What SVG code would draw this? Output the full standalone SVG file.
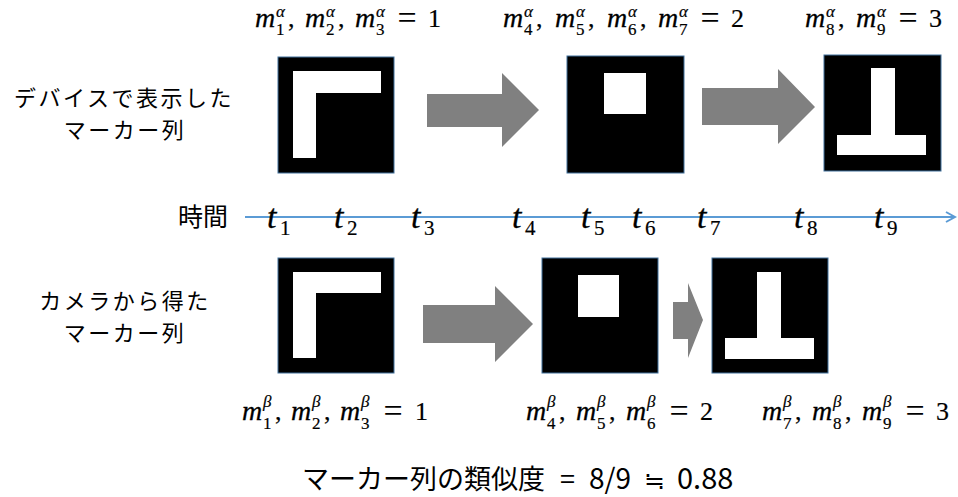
<svg xmlns="http://www.w3.org/2000/svg" width="958" height="497" viewBox="0 0 958 497">
<style>
.jp{font-family:"Noto Sans CJK JP","Noto Sans",sans-serif;font-size:22px;letter-spacing:2.5px;fill:#000}
.sim{font-family:"Noto Sans CJK JP","Noto Sans",sans-serif;font-size:27px;fill:#000}
.mi{font-family:"Liberation Serif",serif;font-style:italic;font-size:28px;fill:#000;stroke:#000;stroke-width:0.3}
.ms{font-family:"Liberation Serif",serif;font-style:italic;font-size:17px;fill:#000;stroke:#000;stroke-width:0.2}
.sb{font-family:"Liberation Serif",serif;font-size:17px;fill:#000;stroke:#000;stroke-width:0.2}
.rm{font-family:"Liberation Serif",serif;font-size:26px;fill:#000;stroke:#000;stroke-width:0.2}
.eq{font-family:"Liberation Serif",serif;font-size:34px;fill:#000}
.ti{font-family:"Liberation Serif",serif;font-style:italic;font-size:34px;fill:#000;stroke:#000;stroke-width:0.3}
.ts{font-family:"Liberation Serif",serif;font-size:21px;fill:#000;stroke:#000;stroke-width:0.2}
.box{fill:#000;stroke:#41719C;stroke-width:1}
.wh{fill:#fff}
.arr{fill:#808080}
</style>
<defs>
<marker id="ah" markerWidth="12" markerHeight="12" refX="10" refY="6" orient="auto" markerUnits="userSpaceOnUse">
<path d="M1,1 L10,6 L1,11" fill="none" stroke="#5B9BD5" stroke-width="2"/>
</marker>
</defs>

<g id="labels-left">
<text class="jp" x="124" y="106" text-anchor="middle">デバイスで表示した</text>
<text class="jp" x="125" y="138" text-anchor="middle">マーカー列</text>
<text class="jp" x="125" y="309" text-anchor="middle">カメラから得た</text>
<text class="jp" x="125" y="341" text-anchor="middle">マーカー列</text>
</g>

<g id="label-top-1">
<text class="mi" x="255" y="27">m</text><text class="ms" x="276" y="17">α</text><text class="sb" x="276" y="35">1</text><text class="rm" x="288" y="27">,</text>
<text class="mi" x="305" y="27">m</text><text class="ms" x="326" y="17">α</text><text class="sb" x="326" y="35">2</text><text class="rm" x="338" y="27">,</text>
<text class="mi" x="355" y="27">m</text><text class="ms" x="376" y="17">α</text><text class="sb" x="376" y="35">3</text>
<text class="eq" x="407" y="29" text-anchor="middle">=</text><text class="rm" x="428" y="27">1</text>
</g>
<g id="label-top-2">
<text class="mi" x="503" y="27">m</text><text class="ms" x="524" y="17">α</text><text class="sb" x="524" y="35">4</text><text class="rm" x="536" y="27">,</text>
<text class="mi" x="555" y="27">m</text><text class="ms" x="576" y="17">α</text><text class="sb" x="576" y="35">5</text><text class="rm" x="588" y="27">,</text>
<text class="mi" x="607" y="27">m</text><text class="ms" x="628" y="17">α</text><text class="sb" x="628" y="35">6</text><text class="rm" x="640" y="27">,</text>
<text class="mi" x="658" y="27">m</text><text class="ms" x="679" y="17">α</text><text class="sb" x="679" y="35">7</text>
<text class="eq" x="710" y="29" text-anchor="middle">=</text><text class="rm" x="731" y="27">2</text>
</g>
<g id="label-top-3">
<text class="mi" x="805" y="27">m</text><text class="ms" x="826" y="17">α</text><text class="sb" x="826" y="35">8</text><text class="rm" x="838" y="27">,</text>
<text class="mi" x="856" y="27">m</text><text class="ms" x="877" y="17">α</text><text class="sb" x="877" y="35">9</text>
<text class="eq" x="908" y="29" text-anchor="middle">=</text><text class="rm" x="929" y="27">3</text>
</g>

<g id="marker-top-1">
<rect class="box" x="278" y="57" width="116" height="116"/>
<path class="wh" d="M293,71 H381 V93 H316 V158 H293 Z"/>
</g>
<g id="marker-top-2">
<rect class="box" x="567" y="56" width="117" height="117"/>
<rect class="wh" x="604" y="73" width="42" height="41"/>
</g>
<g id="marker-top-3">
<rect class="box" x="824" y="55" width="117" height="116"/>
<path class="wh" d="M871,68 H895 V135 H926 V155 H837 V135 H871 Z"/>
</g>

<g id="marker-bottom-1">
<rect class="box" x="278" y="258" width="116" height="115"/>
<path class="wh" d="M293,272 H381 V293 H316 V358 H293 Z"/>
</g>
<g id="marker-bottom-2">
<rect class="box" x="542" y="258" width="116" height="115"/>
<rect class="wh" x="578" y="275" width="41" height="42"/>
</g>
<g id="marker-bottom-3">
<rect class="box" x="712" y="258" width="116" height="115"/>
<path class="wh" d="M757,272 H781 V338 H814 V359 H725 V338 H757 Z"/>
</g>

<g id="connectors">
<path class="arr" d="M427,94 H502 V73 L539,110 L502,147 V127 H427 Z"/>
<path class="arr" d="M702,88 H778 V69 L815,107 L778,144 V125 H702 Z"/>
<path class="arr" d="M423,305 H495 V286 L533,324 L495,362 V343 H423 Z"/>
<path class="arr" d="M673,302 H688 V283 L703,320 L688,358 V339 H673 Z"/>
<line x1="245" y1="217" x2="955" y2="217" stroke="#5B9BD5" stroke-width="2" marker-end="url(#ah)"/>
</g>

<g id="time-axis-labels">
<text class="jp" x="178" y="226" style="font-size:25px;letter-spacing:0">時間</text>
<text class="ti" x="267" y="228">t</text><text class="ts" x="280" y="235">1</text>
<text class="ti" x="334" y="228">t</text><text class="ts" x="347" y="235">2</text>
<text class="ti" x="411" y="228">t</text><text class="ts" x="424" y="235">3</text>
<text class="ti" x="512" y="228">t</text><text class="ts" x="525" y="235">4</text>
<text class="ti" x="581" y="228">t</text><text class="ts" x="594" y="235">5</text>
<text class="ti" x="632" y="228">t</text><text class="ts" x="645" y="235">6</text>
<text class="ti" x="697" y="228">t</text><text class="ts" x="710" y="235">7</text>
<text class="ti" x="794" y="228">t</text><text class="ts" x="807" y="235">8</text>
<text class="ti" x="874" y="228">t</text><text class="ts" x="887" y="235">9</text>
</g>

<g id="similarity">
<text class="sim" x="302" y="489">マーカー列の類似度<tspan x="560">=</tspan><tspan x="589" style="font-size:28px">8/9</tspan></text>
<text class="sim" x="654" y="489" text-anchor="middle" style="font-size:25px">≒</text>
<text class="sim" x="677" y="489" style="font-size:29px">0.88</text>
</g>

<g id="label-bottom-1">
<text class="mi" x="242" y="420">m</text><text class="ms" x="263" y="407">β</text><text class="sb" x="263" y="429">1</text><text class="rm" x="275" y="420">,</text>
<text class="mi" x="291" y="420">m</text><text class="ms" x="312" y="407">β</text><text class="sb" x="312" y="429">2</text><text class="rm" x="324" y="420">,</text>
<text class="mi" x="340" y="420">m</text><text class="ms" x="361" y="407">β</text><text class="sb" x="361" y="429">3</text>
<text class="eq" x="393" y="422" text-anchor="middle">=</text><text class="rm" x="415" y="420">1</text>
</g>
<g id="label-bottom-2">
<text class="mi" x="526" y="420">m</text><text class="ms" x="547" y="407">β</text><text class="sb" x="547" y="429">4</text><text class="rm" x="559" y="420">,</text>
<text class="mi" x="576" y="420">m</text><text class="ms" x="597" y="407">β</text><text class="sb" x="597" y="429">5</text><text class="rm" x="609" y="420">,</text>
<text class="mi" x="626" y="420">m</text><text class="ms" x="647" y="407">β</text><text class="sb" x="647" y="429">6</text>
<text class="eq" x="679" y="422" text-anchor="middle">=</text><text class="rm" x="700" y="420">2</text>
</g>
<g id="label-bottom-3">
<text class="mi" x="762" y="420">m</text><text class="ms" x="783" y="407">β</text><text class="sb" x="783" y="429">7</text><text class="rm" x="795" y="420">,</text>
<text class="mi" x="812" y="420">m</text><text class="ms" x="833" y="407">β</text><text class="sb" x="833" y="429">8</text><text class="rm" x="845" y="420">,</text>
<text class="mi" x="862" y="420">m</text><text class="ms" x="883" y="407">β</text><text class="sb" x="883" y="429">9</text>
<text class="eq" x="915" y="422" text-anchor="middle">=</text><text class="rm" x="936" y="420">3</text>
</g>
</svg>
